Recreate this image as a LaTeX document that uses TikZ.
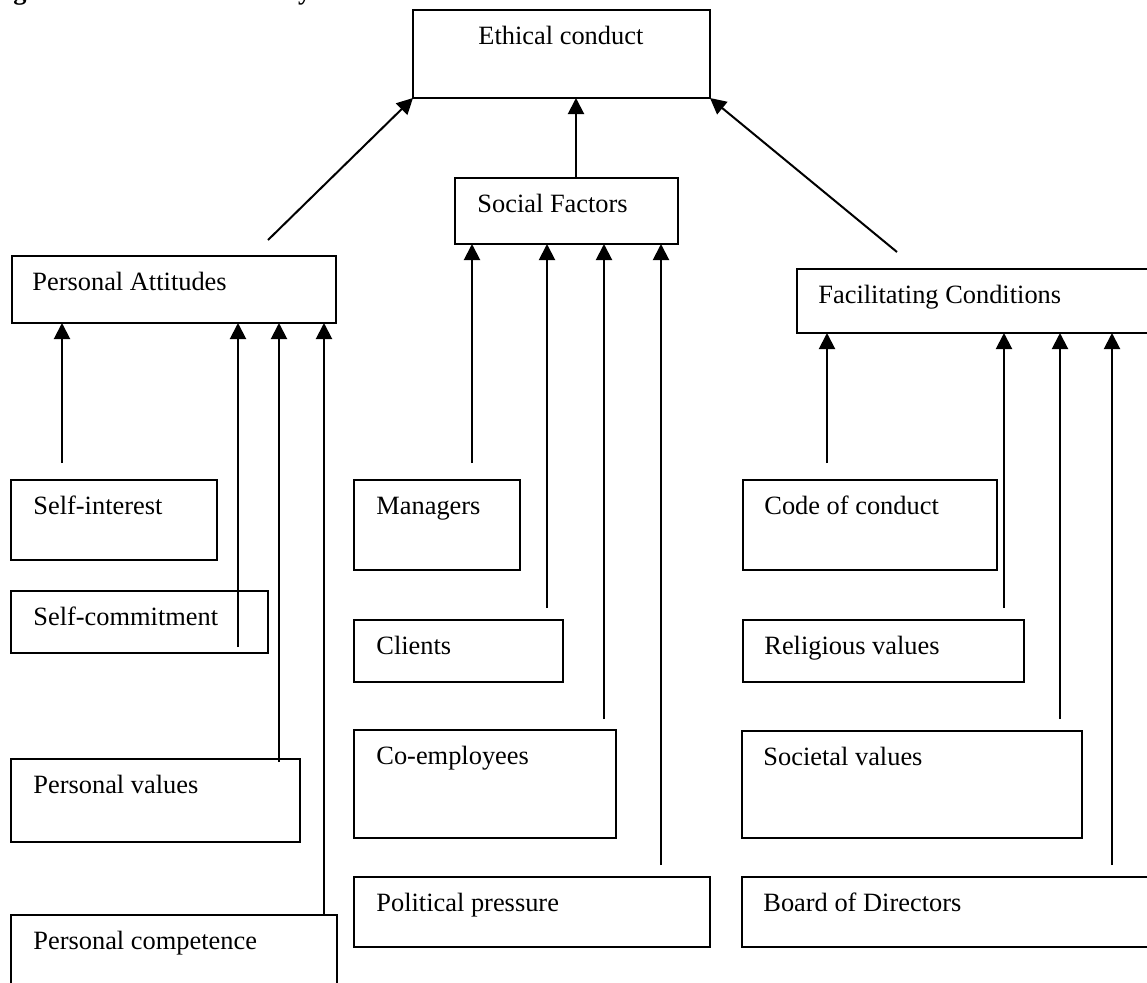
\documentclass[tikz,border=0pt]{standalone}
\usepackage{fontspec}
\setmainfont{Liberation Serif}
\usetikzlibrary{arrows.meta}
% #1 name, #2 left, #3 top, #4 right, #5 bottom (px), #6 text inset (pt), #7 text
\newcommand\fbx[7]{%
  \node[box,minimum width={((#4)-(#2))*0.5pt},minimum height={((#5)-(#3))*0.5pt},
        label={[lbl,xshift=#6,yshift=-17pt]north west:#7}] (#1) at (#2,#3) {};}
\begin{document}
\begin{tikzpicture}[x=0.5pt,y=-0.5pt,
  box/.style={draw,line width=1pt,rectangle,inner sep=0pt,outer sep=0pt,anchor=north west},
  lbl/.style={anchor=base west,inner sep=0pt,font=\fontsize{13.2}{15}\selectfont},
  arr/.style={line width=1pt,-{Triangle[length=8pt,width=8pt]}}]
\useasboundingbox (0,0) rectangle (1147,982);
\clip (0,0) rectangle (1147,982);

\node[anchor=base west,inner sep=0pt,font=\fontsize{13.2}{15}\selectfont\bfseries] (cap) at (13,-1)
  {gure 4.1: Model Summary of factors extracted from all cases};

\fbx{ec}{413}{10}{710}{98}{32.5pt}{Ethical conduct}
\fbx{sf}{455}{178}{678}{244}{11pt}{Social Factors}
\fbx{pa}{12}{256}{336}{323}{10pt}{Personal Attitudes}
\fbx{fc}{797}{269}{1152}{333}{10.5pt}{Facilitating Conditions}

\fbx{si}{11}{480}{217}{560}{11pt}{Self-interest}
\fbx{sc}{11}{591}{268}{653}{11pt}{Self-commitment}
\fbx{pv}{11}{759}{300}{842}{11pt}{Personal values}
\fbx{pc}{11}{915}{337}{1000}{11pt}{Personal competence}

\fbx{mg}{354}{480}{520}{570}{11pt}{Managers}
\fbx{cl}{354}{620}{563}{682}{11pt}{Clients}
\fbx{ce}{354}{730}{616}{838}{11pt}{Co-employees}
\fbx{pp}{354}{877}{710}{947}{11pt}{Political pressure}

\fbx{cc}{743}{480}{997}{570}{10.5pt}{Code of conduct}
\fbx{rv}{743}{620}{1024}{682}{10.5pt}{Religious values}
\fbx{sv}{742}{731}{1082}{838}{10.5pt}{Societal values}
\fbx{bd}{742}{877}{1152}{947}{10.5pt}{Board of Directors}

% top-level arrows
\coordinate (tl) at (268,240);
\coordinate (tr) at (897,252);
\draw[arr] (tl) -- (ec.south west);
\draw[arr] ([xshift=4.75pt]sf.north) -- ([xshift=4.75pt]sf.north |- ec.south);
\draw[arr] (tr) -- (ec.south east);

% personal attitudes inputs
\coordinate (p1) at (62,463);
\coordinate (p2) at (238,647);
\coordinate (p3) at (279,762);
\coordinate (p4) at (324,915);
\foreach \c in {p1,p2,p3,p4} \draw[arr] (\c) -- (\c |- pa.south);

% social factors inputs
\coordinate (s1) at (472,463);
\coordinate (s2) at (547,608);
\coordinate (s3) at (604,719);
\coordinate (s4) at (661,865);
\foreach \c in {s1,s2,s3,s4} \draw[arr] (\c) -- (\c |- sf.south);

% facilitating conditions inputs
\coordinate (f1) at (827,463);
\coordinate (f2) at (1004,608);
\coordinate (f3) at (1060,719);
\coordinate (f4) at (1112,865);
\foreach \c in {f1,f2,f3,f4} \draw[arr] (\c) -- (\c |- fc.south);
\end{tikzpicture}
\end{document}
